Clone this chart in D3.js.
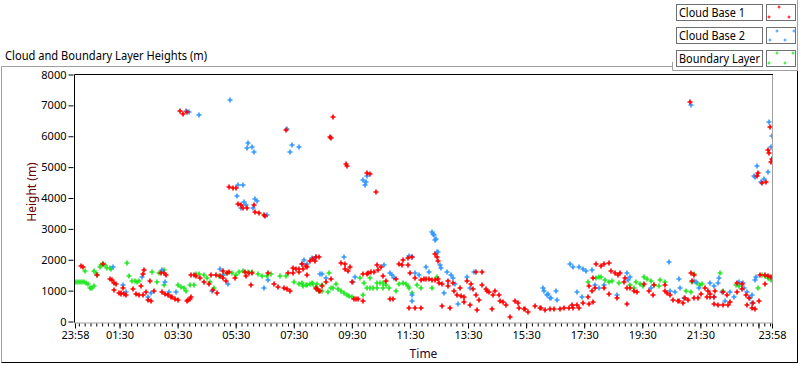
<!DOCTYPE html>
<html><head><meta charset="utf-8">
<script src="https://cdn.jsdelivr.net/npm/d3@7"></script>
<style>
html,body{margin:0;padding:0;background:#fff;}
svg{display:block;font-family:"Noto Sans","Open Sans",sans-serif;}
</style></head>
<body><svg id="c" width="800" height="365"></svg>
<script>
// ---- data (hours since 23:58 start, height in m) ----
const xTickLabels = ["23:58","01:30","03:30","05:30","07:30","09:30","11:30","13:30","15:30","17:30","19:30","21:30","23:58"];
const yTicks = [0,1000,2000,3000,4000,5000,6000,7000,8000];
const seriesNames = ["Cloud Base 1","Cloud Base 2","Boundary Layer"];
const seriesColors = ["#ff0000","#3399ff","#22e622"];

const cloudBase1 = [
[0.21,1790],[0.28,1760],[0.77,1500],[0.97,1850],[1.2,1380],[1.27,1360],[1.35,1250],[1.4,1200],[1.34,1010],[1.5,930],[1.57,920],[1.6,900],[1.68,880],[1.75,870],[1.65,1070],[1.98,1050],[2.1,880],[2.2,870],[2.35,860],[2.28,1140],[2.38,1660],[2.33,1530],[2.45,960],[2.5,700],[2.6,680],[2.58,1300],[2.72,1000],[2.97,1580],[3.05,1570],[3.0,940],[3.1,900],[3.2,850],[3.3,800],[3.15,1500],[3.35,780],[3.45,720],[3.55,700],[3.85,650],[3.9,690],[3.95,720],[4.0,780],[4.0,1520],[4.1,1500],[4.15,1470],[4.3,1420],[4.45,1290],[4.6,1230],[4.7,1520],[4.85,1520],[4.75,1030],[4.9,920],[5.0,1480],[5.1,1400],[5.2,1300],[5.1,1620],[5.25,1580],[5.3,1600],[5.5,1400],[5.85,1590],[6.0,1570],[6.1,1580],[5.9,1460],[6.07,1170],[6.65,1560],[6.85,1230],[7.0,1120],[7.2,1070],[7.3,1040],[7.4,1000],[7.35,1570],[7.5,1560],[7.5,1720],[7.6,1710],[7.7,1700],[7.72,1600],[7.8,1850],[7.95,1800],[8.0,1760],[7.85,1700],[8.0,1520],[8.1,1950],[8.2,2030],[8.25,1970],[8.3,2080],[8.4,2100],[8.35,1040],[8.3,1100],[8.4,1000],[8.45,980],[8.5,1150],[8.65,1270],[8.8,1370],[9.15,1890],[9.3,1860],[9.3,1700],[9.4,1650],[9.48,1760],[9.55,1270],[9.6,720],[9.68,720],[9.75,720],[9.9,680],[9.93,1540],[10.05,1530],[10.1,1580],[10.2,1590],[10.3,1600],[10.4,1820],[10.55,1760],[10.45,1660],[10.6,1460],[10.7,1300],[10.85,720],[10.95,720],[11.05,1380],[11.15,1870],[11.3,1980],[11.45,2050],[11.6,2080],[11.25,1820],[11.45,1820],[11.55,1560],[11.5,450],[11.7,450],[11.9,450],[11.7,1400],[11.9,1350],[12.0,1380],[12.1,1370],[12.2,1370],[12.3,1360],[12.4,1360],[12.5,1380],[12.4,2200],[12.45,2100],[12.5,1950],[12.55,1250],[12.65,1200],[12.85,1150],[12.65,500],[12.9,450],[12.85,1300],[13.0,1250],[13.05,1000],[13.15,850],[13.3,820],[13.4,800],[13.25,1070],[13.4,620],[13.5,1300],[13.65,1200],[13.6,520],[13.7,1050],[13.8,1590],[14.0,1600],[13.8,850],[13.9,700],[13.85,360],[14.0,1170],[14.15,1050],[14.25,950],[14.2,1000],[14.4,850],[14.35,420],[14.45,1000],[14.6,850],[14.62,680],[14.75,620],[14.85,520],[14.98,130],[15.15,680],[15.25,600],[15.3,450],[15.45,390],[15.6,300],[15.5,400],[15.85,510],[16.0,450],[16.05,430],[16.2,380],[16.35,400],[16.5,420],[16.7,420],[16.85,430],[17.0,440],[17.15,450],[17.35,430],[17.1,550],[17.3,520],[17.5,600],[17.65,800],[17.8,1000],[17.9,1100],[17.7,1150],[17.85,1400],[17.85,620],[17.7,580],[17.95,1870],[18.1,1800],[18.2,1850],[18.2,1070],[18.4,880],[18.4,1890],[18.45,1640],[18.6,1560],[18.7,1500],[18.65,750],[18.75,1580],[18.95,1400],[18.9,1270],[19.0,580],[19.0,1100],[19.1,1100],[19.25,1000],[19.35,950],[19.6,1200],[19.75,1000],[19.9,850],[19.93,1170],[20.3,1170],[20.3,1000],[20.4,920],[20.5,850],[20.6,700],[20.75,680],[20.8,680],[20.95,600],[21.0,750],[21.1,700],[21.2,1560],[21.3,1500],[21.25,1300],[21.3,770],[21.45,760],[21.55,900],[21.75,800],[21.85,780],[21.7,1080],[21.8,1000],[21.85,900],[22.0,800],[22.0,560],[22.15,550],[22.3,540],[22.5,550],[22.05,1000],[22.3,940],[22.45,870],[22.55,620],[22.8,1250],[22.95,1200],[22.8,950],[22.97,1050],[23.1,850],[23.2,750],[23.15,520],[23.3,450],[23.4,420],[23.35,600],[23.55,680],[23.6,1500],[23.75,1520],[23.75,1230],[23.85,1470],[23.95,1430],
[3.6,6830],[3.72,6730],[3.85,6770],[8.9,6630],[7.28,6210],[8.77,5980],[8.82,5950],[5.3,4360],[5.45,4330],[5.55,4320],[5.62,3800],[5.72,3770],[5.8,3680],[5.93,3680],[6.17,3770],[6.2,3540],[6.35,3500],[6.5,3450],[6.55,3430],[9.32,5110],[9.35,5050],[10.07,4800],[10.15,4770],[10.38,4200],[21.17,7120],[23.93,6310],[23.87,5560],[23.9,5470],[24.0,5270],[23.97,5170],[23.52,4810],[23.48,4720],[23.65,4490],[23.8,4520]
];

const cloudBase2 = [
[1.3,1760],[1.67,1170],[1.75,950],[2.3,1430],[2.52,780],[2.6,910],[3.0,1660],[3.1,1270],[3.25,950],[3.48,940],[4.72,1000],[5.0,1700],[5.1,1500],[5.28,1230],[6.52,1100],[6.65,1330],[7.8,1850],[7.88,1980],[8.0,1850],[8.15,2060],[8.3,2090],[8.45,1530],[8.5,1550],[8.65,1400],[9.27,2080],[9.58,1280],[9.65,1430],[10.65,1820],[10.85,1570],[10.9,1500],[10.97,1400],[11.5,2110],[11.6,2100],[11.7,1560],[11.85,1500],[11.6,680],[11.6,850],[12.1,1760],[12.2,1600],[12.28,2900],[12.32,2850],[12.35,2800],[12.4,2650],[12.42,2670],[12.48,2240],[12.5,2250],[12.57,1820],[12.6,1720],[12.7,910],[12.8,1590],[12.95,1500],[13.0,1400],[13.07,1230],[13.2,580],[13.5,1430],[13.6,1100],[13.73,1600],[16.15,1000],[16.3,900],[16.35,750],[16.1,1070],[16.25,870],[16.4,750],[16.55,1000],[16.6,700],[17.05,1870],[17.15,1760],[17.35,1760],[17.3,940],[17.45,800],[17.5,1700],[17.6,1650],[17.8,1660],[17.9,1170],[18.05,1080],[18.2,1170],[18.65,850],[19.0,1560],[19.1,1430],[19.05,1330],[19.85,1100],[20.45,1920],[20.48,1000],[20.65,940],[20.8,1370],[20.83,1070],[20.97,750],[21.3,1300],[21.4,1280],[21.48,1100],[21.85,1250],[22.0,1150],[22.15,1250],[22.0,780],[22.17,1400],[22.28,940],[22.38,680],[22.55,940],[22.7,780],[22.85,1270],[23.0,1260],[23.05,1100],[23.15,950],[23.25,750],[23.3,600],[23.3,850],[23.4,1330],[23.45,1430],
[5.35,7180],[3.83,6830],[3.92,6800],[4.27,6700],[5.97,5790],[5.93,5630],[6.1,5660],[6.17,5500],[7.3,6240],[7.48,5720],[7.7,5660],[7.42,5500],[5.62,4420],[5.8,4420],[5.58,4060],[5.83,3870],[5.9,3770],[5.7,3680],[6.14,3680],[6.21,3970],[6.28,3900],[6.6,3450],[9.93,4590],[10.03,4520],[9.97,4420],[10.07,4720],[21.2,7020],[23.9,6470],[24.0,6010],[23.98,5660],[23.48,5040],[23.86,4850],[23.38,4710],[23.42,4680],[23.62,4520],[23.72,4620]
];

const boundaryLayer = [
[0.03,1280],[0.1,1290],[0.17,1280],[0.24,1270],[0.31,1270],[0.38,1250],[0.45,1230],[0.5,1080],[0.55,1070],[0.6,1080],[0.66,1140],[0.34,1640],[0.66,1620],[0.72,1580],[0.77,1520],[0.85,1780],[0.9,1830],[0.95,1850],[1.02,1840],[1.1,1720],[1.2,1720],[1.25,1700],[1.79,1880],[1.85,1460],[1.95,1300],[2.05,1300],[2.15,1290],[2.2,1300],[2.66,1600],[2.83,1280],[2.9,1560],[3.0,1620],[3.07,1660],[3.07,1170],[3.55,1170],[3.65,1120],[3.75,1100],[3.83,990],[3.95,1170],[4.1,1170],[4.15,1530],[4.27,1530],[4.45,1500],[4.55,1400],[4.65,1270],[4.8,1100],[4.95,1460],[5.1,1500],[5.25,1560],[5.4,1560],[5.55,1500],[5.65,1610],[5.8,1620],[5.95,1600],[6.1,1600],[6.3,1530],[6.45,1480],[6.6,1460],[6.75,1530],[7.05,1460],[7.25,1460],[7.55,1270],[7.7,1200],[7.8,1250],[7.85,1150],[7.95,1170],[8.0,1170],[8.1,1200],[8.15,1240],[8.2,1230],[8.3,1130],[8.35,1200],[8.5,1170],[8.3,1050],[8.4,980],[8.5,990],[8.75,1560],[8.72,950],[8.8,1070],[8.9,1070],[9.0,1230],[9.05,1040],[9.15,980],[9.25,920],[9.35,870],[9.45,820],[9.55,780],[9.8,1400],[9.95,1250],[9.93,850],[10.05,1090],[10.15,1100],[10.25,1100],[10.4,1080],[10.15,1400],[10.4,1260],[10.5,1250],[10.6,1250],[10.62,1100],[10.72,1170],[10.8,1100],[11.07,1000],[11.15,1230],[11.3,1260],[11.4,1200],[11.45,1150],[11.5,1100],[11.6,910],[11.78,1170],[11.93,1070],[12.28,1100],[12.45,1430],[17.68,1270],[17.95,1400],[18.05,1430],[18.1,1430],[18.25,1330],[18.4,1270],[18.5,1300],[18.72,1260],[19.1,1170],[19.25,1100],[19.3,1270],[19.45,1200],[19.55,1150],[19.6,1430],[19.7,1380],[19.85,1300],[19.95,1170],[20.1,1140],[20.15,1330],[20.3,1270],[21.05,990],[21.2,950],[21.25,1270],[21.3,1530],[21.42,1260],[21.52,1180],[21.6,1230],[22.2,1560],[22.3,1000],[22.75,1170],[22.85,1150],[23.52,1070],[23.65,1500],[23.75,1460],[23.85,1400],[23.9,1450],[23.95,1350]
];

// ---- layout ----
const svg = d3.select("#c");
const L = 75, R = 772, T = 74.5, B = 321.5;
const x = d3.scaleLinear().domain([0,24]).range([L,R]);
const y = d3.scaleLinear().domain([0,8000]).range([B,T]);

function toHours(s, i, arr){
  if (i === arr.length-1) return 24;
  const [h,m] = s.split(":").map(Number);
  return (((h*60+m) - (23*60+58) + 1440) % 1440)/60;
}
const majorPos = xTickLabels.map(toHours);

// outer frame
svg.append("line").attr("x1",1.5).attr("x2",672).attr("y1",66.5).attr("y2",66.5).attr("stroke","#a0a0a0");
svg.append("line").attr("x1",1.5).attr("x2",1.5).attr("y1",66.5).attr("y2",362.5).attr("stroke","#a0a0a0");
svg.append("line").attr("x1",1.5).attr("x2",798).attr("y1",362.5).attr("y2",362.5).attr("stroke","#000");
svg.append("line").attr("x1",797.5).attr("x2",797.5).attr("y1",70).attr("y2",362.5).attr("stroke","#000");

// title
svg.append("text").attr("x",5).attr("y",60).attr("font-size",12).attr("fill","#000")
  .attr("textLength",202).attr("lengthAdjust","spacingAndGlyphs")
  .text("Cloud and Boundary Layer Heights (m)");

// plot background + frame
svg.append("rect").attr("x",L-1).attr("y",T).attr("width",R-L+1).attr("height",B-T+1).attr("fill","#fff");
svg.append("line").attr("x1",R+0.5).attr("x2",R+0.5).attr("y1",T).attr("y2",B+1.5).attr("stroke","#a0a0a0");
svg.append("line").attr("x1",L-1).attr("x2",R+1).attr("y1",B+1.5).attr("y2",B+1.5).attr("stroke","#a0a0a0");
svg.append("line").attr("x1",L-0.5).attr("x2",R+1).attr("y1",T).attr("y2",T).attr("stroke","#000");
svg.append("line").attr("x1",L-0.5).attr("x2",L-0.5).attr("y1",T).attr("y2",B+1).attr("stroke","#000");

// y axis
const yAxis = d3.axisLeft(y).tickValues(yTicks).tickSize(5).tickPadding(2).tickFormat(d3.format("d"));
const gy = svg.append("g").attr("transform",`translate(${L-1.5},0)`).call(yAxis);
gy.select(".domain").remove();
gy.selectAll("text").attr("font-size",11).attr("font-family","Noto Sans").attr("fill","#000");

// x axis minor ticks every 12 min aligned with labels
const minor = [];
for (let t = majorPos[1]; t < 24; t += 0.2) minor.push(+t.toFixed(4));
for (let t = majorPos[1]-0.2; t > 0; t -= 0.2) minor.push(+t.toFixed(4));
const majorAll = [];
for (let t = majorPos[1]; t < 24; t += 2) majorAll.push(+t.toFixed(4));
majorAll.push(0, 24);
const gxMinor = svg.append("g").attr("transform",`translate(0,${B+2})`)
  .call(d3.axisBottom(x).tickValues(minor).tickSize(3).tickFormat(""));
gxMinor.select(".domain").remove();
const gxMajor = svg.append("g").attr("transform",`translate(0,${B+2})`)
  .call(d3.axisBottom(x).tickValues(majorAll).tickSize(5).tickFormat(""));
gxMajor.select(".domain").remove();
const gx = svg.append("g").attr("transform",`translate(0,${B+2})`)
  .call(d3.axisBottom(x).tickValues(majorPos).tickSize(0).tickPadding(8).tickFormat((d,i)=>xTickLabels[i]));
gx.select(".domain").remove();
gx.selectAll("text").attr("font-size",11).attr("font-family","Noto Sans").attr("fill","#000");

// axis titles
svg.append("text").attr("x",(L+R)/2).attr("y",358).attr("text-anchor","middle").attr("font-size",12).attr("fill","#2a0028").text("Time");
svg.append("text").attr("transform","translate(36,192) rotate(-90)").attr("text-anchor","middle").attr("font-size",12).attr("fill","#6a0000").text("Height (m)");

// points
function plus(cx, cy, r){ return `M${cx-r},${cy}H${cx+r}M${cx},${cy-r}V${cy+r}`; }
const allSeries = [cloudBase1, cloudBase2, boundaryLayer];
svg.append("clipPath").attr("id","pc").append("rect").attr("x",L).attr("y",T).attr("width",R-L).attr("height",B-T);
const pg = svg.append("g").attr("clip-path","url(#pc)");
[2,1,0].forEach(si => {
  pg.append("path")
    .attr("d", allSeries[si].map(d => plus(Math.round(x(d[0])), Math.round(y(d[1])), 2.5)).join(""))
    .attr("stroke", seriesColors[si]).attr("stroke-width",1.6).attr("fill","none");
});

// legend
const lg = svg.append("g");
lg.append("rect").attr("x",672).attr("y",0).attr("width",126).attr("height",70).attr("fill","#fff");
lg.append("line").attr("x1",672.5).attr("x2",672.5).attr("y1",62).attr("y2",70.5).attr("stroke","#a0a0a0");
lg.append("line").attr("x1",672.5).attr("x2",798).attr("y1",70.5).attr("y2",70.5).attr("stroke","#a0a0a0");
lg.append("line").attr("x1",797.5).attr("x2",797.5).attr("y1",0).attr("y2",70.5).attr("stroke","#a0a0a0");
const rowY = [4.5, 27.5, 50.5];
const labelWidths = [66, 66, 81];
const samples = [
  [[779,7],[769,17],[789,17]],
  [[777,31],[794,31],[770,40],[785,40]],
  [[777,53],[793,53],[769,63],[785,63]]
];
seriesNames.forEach((n,i) => {
  const g = lg.append("g");
  g.append("rect").attr("x",676.5).attr("y",rowY[i]).attr("width",86).attr("height",16).attr("fill","#fff").attr("stroke","#707070");
  g.append("text").attr("x",679).attr("y",rowY[i]+12.5).attr("font-size",12).attr("fill","#000")
    .attr("textLength",labelWidths[i]).attr("lengthAdjust","spacingAndGlyphs").text(n);
  g.append("rect").attr("x",766.5).attr("y",rowY[i]).attr("width",29).attr("height",16).attr("fill","#fff").attr("stroke","#707070");
  g.append("path").attr("d", samples[i].map(p=>plus(p[0],p[1],1.5)).join("")).attr("stroke",seriesColors[i]).attr("stroke-width",1).attr("fill","none");
});
</script></body></html>
